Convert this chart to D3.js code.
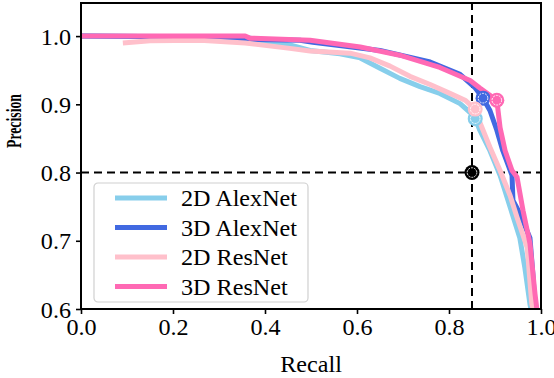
<!DOCTYPE html>
<html>
<head>
<meta charset="utf-8">
<script src="https://cdn.jsdelivr.net/npm/d3@7"></script>
<style>
  body { margin: 0; background: #fff; }
  svg { display: block; font-family: "Liberation Serif", "Times New Roman", serif; }
</style>
</head>
<body>
<div id="chart"></div>
<script>
// Precision-recall curves
const seriesNames = ['2D AlexNet', '3D AlexNet', '2D ResNet', '3D ResNet'];
const seriesColors = ['#87CEEB', '#4169E1', '#FFC0CB', '#FF69B4'];

const alex2dRecall = [0, 0.357, 0.389, 0.454, 0.498, 0.563, 0.607, 0.650, 0.693, 0.737, 0.780, 0.824, 0.846, 0.857, 0.867, 0.889, 0.911, 0.933, 0.954, 0.965, 0.976, 0.978];
const alex2dPrec   = [1.0, 0.9985, 0.994, 0.987, 0.979, 0.974, 0.968, 0.953, 0.938, 0.926, 0.916, 0.901, 0.888, 0.879, 0.862, 0.832, 0.796, 0.749, 0.704, 0.660, 0.607, 0.60];

const alex3dRecall = [0, 0.259, 0.291, 0.476, 0.504, 0.650, 0.759, 0.824, 0.857, 0.874, 0.889, 0.904, 0.917, 0.937, 0.939, 0.954, 0.976, 0.983, 0.987];
const alex3dPrec   = [1.0, 0.9985, 0.9956, 0.994, 0.991, 0.979, 0.962, 0.944, 0.924, 0.909, 0.891, 0.862, 0.832, 0.796, 0.759, 0.740, 0.704, 0.646, 0.60];

const res2dRecall = [0.091, 0.150, 0.259, 0.357, 0.454, 0.498, 0.585, 0.628, 0.672, 0.715, 0.759, 0.802, 0.835, 0.857, 0.867, 0.889, 0.911, 0.933, 0.948, 0.970, 0.980, 0.983];
const res2dPrec   = [0.990, 0.993, 0.994, 0.990, 0.982, 0.978, 0.975, 0.968, 0.956, 0.941, 0.929, 0.916, 0.906, 0.893, 0.874, 0.837, 0.803, 0.766, 0.734, 0.690, 0.607, 0.60];

const res3dRecall = [0, 0.357, 0.367, 0.498, 0.607, 0.693, 0.780, 0.846, 0.867, 0.904, 0.911, 0.922, 0.937, 0.948, 0.961, 0.976, 0.987, 0.991];
const res3dPrec   = [1.0, 1.0, 0.997, 0.994, 0.984, 0.972, 0.954, 0.935, 0.924, 0.906, 0.866, 0.832, 0.803, 0.793, 0.744, 0.696, 0.622, 0.60];

// operating points marked on each curve
const markRecall = [0.857, 0.874, 0.857, 0.904];
const markPrec   = [0.879, 0.909, 0.893, 0.906];

// reference operating point (dashed cross-hair)
const refRecall = 0.85;
const refPrec = 0.80;

const xTicks = [0, 0.2, 0.4, 0.6, 0.8, 1.0];
const yTicks = [0.6, 0.7, 0.8, 0.9, 1.0];

const curves = [
    [alex2dRecall, alex2dPrec],
    [alex3dRecall, alex3dPrec],
    [res2dRecall, res2dPrec],
    [res3dRecall, res3dPrec]
];

const width = 554, height = 378;
const margin = { top: 3, right: 13, bottom: 69, left: 81 };
const yTop = 1.0485;
const fontSize = '23px';
const stretch = 1.05;  // text in the reference is a little wider than plain Times

const svg = d3.select('#chart').append('svg')
    .attr('width', width)
    .attr('height', height);

const x = d3.scaleLinear().domain([0, 1]).range([margin.left, width - margin.right]);
const y = d3.scaleLinear().domain([0.6, yTop]).range([height - margin.bottom, margin.top]);

const plot = svg.append('g');

// clip curves to the axes box
svg.append('defs').append('clipPath').attr('id', 'clip')
    .append('rect')
    .attr('x', x(0)).attr('y', y(yTop))
    .attr('width', x(1) - x(0)).attr('height', y(0.6) - y(yTop));

// dashed reference lines
plot.append('line')
    .attr('x1', x(0)).attr('x2', x(1))
    .attr('y1', y(refPrec)).attr('y2', y(refPrec))
    .attr('stroke', '#000').attr('stroke-width', 2).attr('stroke-dasharray', '8,5');
plot.append('line')
    .attr('x1', x(refRecall)).attr('x2', x(refRecall))
    .attr('y1', y(0.6)).attr('y2', y(yTop))
    .attr('stroke', '#000').attr('stroke-width', 2).attr('stroke-dasharray', '8,5');

const line = d3.line()
    .x(d => x(d[0]))
    .y(d => y(d[1]));

const curveGroup = plot.append('g').attr('clip-path', 'url(#clip)');
curves.forEach((c, i) => {
    const pts = c[0].map((r, j) => [r, c[1][j]]);
    curveGroup.append('path')
        .datum(pts)
        .attr('d', line)
        .attr('fill', 'none')
        .attr('stroke', seriesColors[i])
        .attr('stroke-width', 5)
        .attr('stroke-linejoin', 'round');
});

// markers
function drawMarker(cx, cy, color) {
    plot.append('circle')
        .attr('cx', cx).attr('cy', cy).attr('r', 7.5)
        .attr('fill', color);
    plot.append('circle')
        .attr('cx', cx).attr('cy', cy).attr('r', 4.8)
        .attr('fill', 'none')
        .attr('stroke', '#fff').attr('stroke-width', 0.9)
        .attr('stroke-dasharray', '2,1');
}
markRecall.forEach((r, i) => drawMarker(x(r), y(markPrec[i]), seriesColors[i]));
drawMarker(x(refRecall), y(refPrec), '#000');

// axes
const xAxis = d3.axisBottom(x).tickValues(xTicks).tickFormat(d3.format('.1f')).tickSizeOuter(0).tickSize(5).tickPadding(5);
const yAxis = d3.axisLeft(y).tickValues(yTicks).tickFormat(d3.format('.1f')).tickSizeOuter(0).tickSize(5).tickPadding(5);

const gx = svg.append('g').attr('transform', `translate(0,${y(0.6)})`).call(xAxis);
const gy = svg.append('g').attr('transform', `translate(${x(0)},0)`).call(yAxis);
[gx, gy].forEach(g => {
    g.select('.domain').remove();
    g.selectAll('.tick line').attr('stroke', '#000').attr('stroke-width', 1.6);
    g.selectAll('.tick text')
        .attr('fill', '#000')
        .attr('class', 'wide')
        .style('font-family', '"Liberation Serif", "Times New Roman", serif')
        .style('font-size', fontSize);
});
gy.selectAll('.tick text').attr('dy', '0.35em');

// frame
svg.append('rect')
    .attr('x', x(0)).attr('y', y(yTop))
    .attr('width', x(1) - x(0)).attr('height', y(0.6) - y(yTop))
    .attr('fill', 'none').attr('stroke', '#000').attr('stroke-width', 2);

// axis labels
svg.append('text')
    .attr('class', 'wide')
    .attr('x', (x(0) + x(1)) / 2)
    .attr('y', 372)
    .attr('text-anchor', 'middle')
    .style('font-size', fontSize)
    .text('Recall');

svg.append('text')
    .attr('transform', 'translate(21,121) rotate(-90)')
    .attr('text-anchor', 'middle')
    .attr('textLength', 54)
    .attr('lengthAdjust', 'spacingAndGlyphs')
    .style('font-size', '22px')
    .style('font-weight', 'bold')
    .text('Precision');

// legend
const legend = svg.append('g').attr('transform', 'translate(94,183)');
legend.append('rect')
    .attr('width', 214).attr('height', 119)
    .attr('rx', 4)
    .attr('fill', '#fff').attr('fill-opacity', 0.8)
    .attr('stroke', '#d0d0d0').attr('stroke-width', 1.2);
seriesNames.forEach((name, i) => {
    const ly = 15 + i * 29.5;
    legend.append('line')
        .attr('x1', 21).attr('x2', 73)
        .attr('y1', ly).attr('y2', ly)
        .attr('stroke', seriesColors[i]).attr('stroke-width', 5);
    legend.append('text')
        .attr('class', 'wide')
        .attr('x', 87).attr('y', ly)
        .attr('dy', '0.35em')
        .style('font-size', fontSize)
        .text(name);
});

// widen the texts slightly to match the reference glyph proportions
svg.selectAll('text.wide').each(function () {
    const len = this.getComputedTextLength();
    d3.select(this)
        .attr('textLength', len * stretch)
        .attr('lengthAdjust', 'spacingAndGlyphs');
});
</script>
</body>
</html>
